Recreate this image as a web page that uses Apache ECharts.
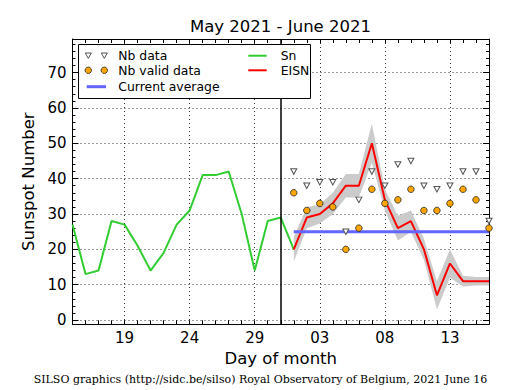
<!DOCTYPE html>
<html><head><meta charset="utf-8">
<script src="https://cdn.jsdelivr.net/npm/echarts@6/dist/echarts.min.js"></script>
<style>html,body{margin:0;padding:0;background:#fff}#c{width:515px;height:390px}</style>
</head><body><div id="c"></div>
<script>
// Days from May 15 to June 16, 2021
const days = ['15','16','17','18','19','20','21','22','23','24','25','26','27','28','29','30','31',
              '01','02','03','04','05','06','07','08','09','10','11','12','13','14','15','16'];
// Sn: May 15 .. June 1
const snValues = [27,13,14,28,27,21,14,19,27,31,41,41,42,30,14,28,29,20];
// June 1 .. June 16
const eisnValues = [20,29,30,33,38,38,50,34,26,28,20,7,16,11,11,11];
const eisnError  = [3.5,3,2.7,3,3.3,3.3,5.5,3,3.5,3,3,4,4,1.5,1.2,1.2];
const nbData     = [42,38,39,39,25,34,42,38,44,45,38,37,38,42,42,28];
const nbValid    = [36,31,33,32,20,26,37,33,34,37,31,31,33,37,34,26];
const currentAverage = 25;
const monthBoundaryIndex = 16;
const juneStart = 17;

const N = days.length;
function pad(arr, start) {
  const out = new Array(N).fill('-');
  arr.forEach((v, i) => { out[start + i] = v; });
  return out;
}
const snSeries = pad(snValues, 0);
const eisnSeries = pad(eisnValues, juneStart);
const lowSeries = pad(eisnValues.map((v, i) => v - eisnError[i]), juneStart);
const bandSeries = pad(eisnError.map(e => 2 * e), juneStart);
const avgSeries = pad(eisnValues.map(() => currentAverage), juneStart);
const nbSeries = pad(nbData, juneStart);
const validSeries = pad(nbValid, juneStart);

const FONT = 'DejaVu Sans';
const gridDot = {color: '#000', type: [1, 3], width: 0.8};
const majorX = (i) => i % 5 === 4;

const chart = echarts.init(document.getElementById('c'), null, {renderer: 'svg'});

const legendY1 = 55.7, legendY2 = 70.3, legendY3 = 86.7;
function tri(cx, cy) {
  return {type: 'polygon', shape: {points: [[cx - 3, cy - 2.7], [cx + 3, cy - 2.7], [cx, cy + 2.7]]},
          style: {fill: '#fff', stroke: '#555', lineWidth: 1}, z: 101};
}
function dot(cx, cy) {
  return {type: 'circle', shape: {cx: cx, cy: cy, r: 3.2},
          style: {fill: '#ffa500', stroke: '#222', lineWidth: 0.8}, z: 101};
}
function seg(x1, x2, y, color, w) {
  return {type: 'line', shape: {x1: x1, y1: y, x2: x2, y2: y}, style: {stroke: color, lineWidth: w}, z: 101};
}
function txt(x, y, s, size, family, align) {
  return {type: 'text', x: x, y: y, z: 101,
          style: {text: s, fontSize: size, fontFamily: family, fill: '#000',
                  textAlign: align || 'left', textVerticalAlign: 'middle'}};
}

const yBase = {
  type: 'value', min: -1.2, max: 79.5, splitNumber: 8,
  axisLine: {show: true, lineStyle: {color: '#000', width: 1}},
  axisTick: {show: true, inside: true, length: 6, lineStyle: {color: '#000'}},
  minorTick: {show: true, splitNumber: 5, length: 3, lineStyle: {color: '#000'}},
};

chart.setOption({
  animation: false,
  backgroundColor: '#fff',
  grid: {left: 72.5, right: 26, top: 39, bottom: 65.7, containLabel: false},
  xAxis: [{
    type: 'category', data: days, boundaryGap: false, position: 'bottom',
    axisLine: {show: true, onZero: false, lineStyle: {color: '#000', width: 1}},
    axisTick: {show: true, inside: true, interval: 0, length: 4, lineStyle: {color: '#000'}},
    axisLabel: {interval: majorX, color: '#000', fontSize: 15, fontFamily: FONT, margin: 6},
    splitLine: {show: true, interval: majorX, lineStyle: gridDot},
    name: 'Day of month', nameLocation: 'middle', nameGap: 23,
    nameTextStyle: {fontSize: 16.5, color: '#000', fontFamily: FONT}
  }, {
    type: 'category', data: days, boundaryGap: false, position: 'top',
    axisLine: {show: true, onZero: false, lineStyle: {color: '#000', width: 1}},
    axisTick: {show: true, inside: true, interval: 0, length: 4, lineStyle: {color: '#000'}},
    axisLabel: {show: false}, splitLine: {show: false}
  }],
  yAxis: [Object.assign({}, yBase, {
    position: 'left',
    axisLabel: {color: '#000', fontSize: 15, fontFamily: FONT, margin: 6,
      formatter: v => (Math.abs(v % 10) < 1e-6 && v >= 0 && v <= 70) ? String(Math.round(v)) : ''},
    splitLine: {show: true, lineStyle: gridDot},
    name: 'Sunspot Number', nameLocation: 'middle', nameGap: 31, nameRotate: 90,
    nameTextStyle: {fontSize: 16.5, color: '#000', fontFamily: FONT}
  }), Object.assign({}, yBase, {
    position: 'right', axisLabel: {show: false}, splitLine: {show: false}
  })],
  series: [
    {name: 'bandLow', type: 'line', data: lowSeries, stack: 'band', symbol: 'none', silent: true,
     lineStyle: {opacity: 0}, z: 1},
    {name: 'band', type: 'line', data: bandSeries, stack: 'band', symbol: 'none', silent: true,
     lineStyle: {opacity: 0}, areaStyle: {color: '#cbcbcb', opacity: 1}, z: 1},
    {name: 'Sn', type: 'line', data: snSeries, symbol: 'none', z: 3,
     lineStyle: {color: '#32cd32', width: 2}, itemStyle: {color: '#32cd32'},
     markLine: {symbol: ['none', 'none'], silent: true, label: {show: false},
       lineStyle: {color: '#000', width: 1.5, type: 'solid'},
       data: [{xAxis: monthBoundaryIndex}]}},
    {name: 'EISN', type: 'line', data: eisnSeries, symbol: 'none', z: 4,
     lineStyle: {color: '#ff0000', width: 2}, itemStyle: {color: '#ff0000'}},
    {name: 'Current average', type: 'line', data: avgSeries, symbol: 'none', z: 5,
     lineStyle: {color: '#6464ff', width: 3}, itemStyle: {color: '#6464ff'}},
    {name: 'Nb data', type: 'scatter', data: nbSeries, symbol: 'triangle', symbolRotate: 180,
     symbolSize: [6, 5.5], z: 6, itemStyle: {color: '#fff', borderColor: '#555', borderWidth: 1, opacity: 1}},
    {name: 'Nb valid data', type: 'scatter', data: validSeries, symbol: 'circle',
     symbolSize: 6.5, z: 7, itemStyle: {color: '#ffa500', borderColor: '#222', borderWidth: 0.8, opacity: 1}}
  ],
  graphic: [
    txt(280.5, 26, 'May 2021 - June 2021', 16.5, FONT, 'center'),
    txt(260.5, 379, 'SILSO graphics (http://sidc.be/silso) Royal Observatory of Belgium, 2021 June 16', 11, 'DejaVu Serif', 'center'),
    {type: 'rect', shape: {x: 78.5, y: 44.5, width: 232, height: 54}, z: 100,
     style: {fill: '#fff', stroke: '#000', lineWidth: 1}},
    tri(88.3, legendY1), tri(104.3, legendY1),
    dot(88.3, legendY2), dot(104.3, legendY2),
    seg(86.7, 106, legendY3, '#6464ff', 3),
    txt(118.3, legendY1, 'Nb data', 12.4, FONT),
    txt(118.3, legendY2, 'Nb valid data', 12.4, FONT),
    txt(118.3, legendY3, 'Current average', 12.4, FONT),
    seg(248.3, 266.7, legendY1, '#32cd32', 2),
    seg(248.3, 266.7, legendY2, '#ff0000', 2),
    txt(280.7, legendY1, 'Sn', 12.4, FONT),
    txt(280.7, legendY2, 'EISN', 12.4, FONT)
  ]
});
</script>
</body></html>
